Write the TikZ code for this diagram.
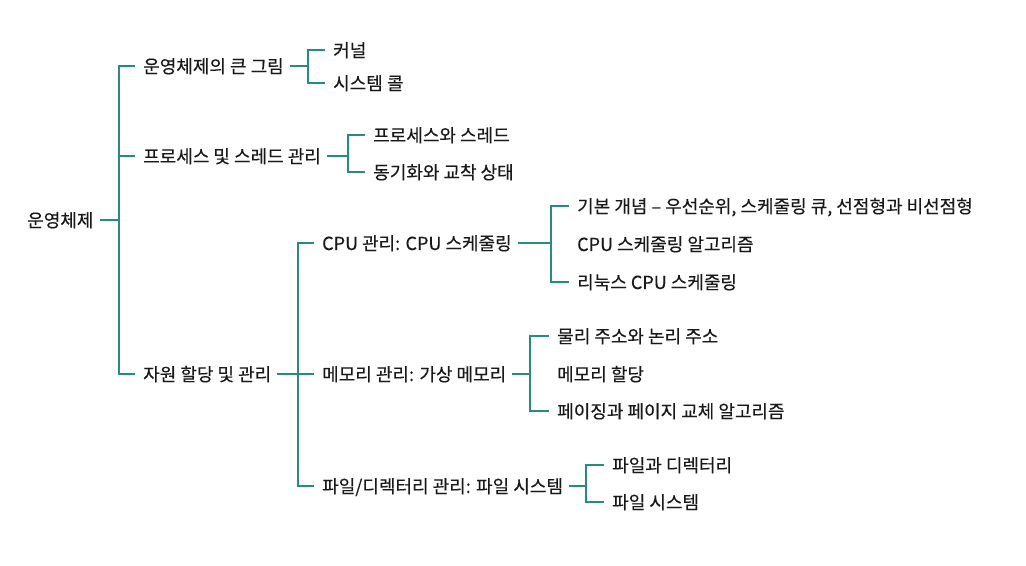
\documentclass[tikz,border=0pt]{standalone}
\usepackage{fontspec}
\newfontfamily\kr[FakeBold=0.3]{Noto Sans CJK KR}
\definecolor{lc}{RGB}{38,140,126}
\definecolor{tc}{RGB}{25,25,25}
\begin{document}
\begin{tikzpicture}[x=1bp,y=-1bp,
 lbl/.style={anchor=west,inner sep=0pt,text=tc,font=\kr\fontsize{18bp}{21bp}\selectfont,text height=16bp,text depth=2bp},
 conn/.style={draw=lc,line width=1.4bp}]
\useasboundingbox[fill=white] (0,0) rectangle (1026,566);
\node[lbl] (root) at (27,220) {운영체제};
\node[lbl] (a1) at (143,66) {운영체제의 큰 그림};
\node[lbl] (a2) at (143,156) {프로세스 및 스레드 관리};
\node[lbl] (a3) at (143,374) {자원 할당 및 관리};
\node[lbl] (b1) at (333,50) {커널};
\node[lbl] (b2) at (333,83) {시스템 콜};
\node[lbl] (c1) at (373,135) {프로세스와 스레드};
\node[lbl] (c2) at (373,172) {동기화와 교착 상태};
\node[lbl] (d1) at (322,243) {CPU 관리: CPU 스케줄링};
\node[lbl] (d2) at (322,374) {메모리 관리: 가상 메모리};
\node[lbl] (d3) at (322,486) {파일/디렉터리 관리: 파일 시스템};
\node[lbl] (e1) at (577,206) {기본 개념 – 우선순위, 스케줄링 큐, 선점형과 비선점형};
\node[lbl] (e2) at (577,244) {CPU 스케줄링 알고리즘};
\node[lbl] (e3) at (577,282) {리눅스 CPU 스케줄링};
\node[lbl] (f1) at (557,336) {물리 주소와 논리 주소};
\node[lbl] (f2) at (557,374) {메모리 할당};
\node[lbl] (f3) at (557,411) {페이징과 페이지 교체 알고리즘};
\node[lbl] (g1) at (612,465) {파일과 디렉터리};
\node[lbl] (g2) at (612,502) {파일 시스템};
\coordinate (s0) at (119,0);
\coordinate (s1) at (308,0);
\coordinate (s2) at (348,0);
\coordinate (s3) at (298,0);
\coordinate (s4) at (551,0);
\coordinate (s5) at (530,0);
\coordinate (s6) at (586,0);
% level 1
\draw[conn] ([xshift=6]root.east) -- (root.east -| s0);
\draw[conn] ([xshift=-8]a1.west) -- (a1.west -| s0) -- (a3.west -| s0) -- ([xshift=-8]a3.west);
\draw[conn] (a2.west -| s0) -- ([xshift=-8]a2.west);
% big picture
\draw[conn] ([xshift=6]a1.east) -- (a1.east -| s1);
\draw[conn] ([xshift=-8]b1.west) -- (b1.west -| s1) -- (b2.west -| s1) -- ([xshift=-8]b2.west);
% process
\draw[conn] ([xshift=6]a2.east) -- (a2.east -| s2);
\draw[conn] ([xshift=-8]c1.west) -- (c1.west -| s2) -- (c2.west -| s2) -- ([xshift=-8]c2.west);
% resources
\draw[conn] ([xshift=6]a3.east) -- ([xshift=-8]d2.west);
\draw[conn] ([xshift=-8]d1.west) -- (d1.west -| s3) -- (d3.west -| s3) -- ([xshift=-8]d3.west);
% cpu
\draw[conn] ([xshift=6]d1.east) -- (d1.east -| s4);
\draw[conn] ([xshift=-8]e1.west) -- (e1.west -| s4) -- (e3.west -| s4) -- ([xshift=-8]e3.west);
% memory
\draw[conn] ([xshift=6]d2.east) -- (d2.east -| s5);
\draw[conn] ([xshift=-8]f1.west) -- (f1.west -| s5) -- (f3.west -| s5) -- ([xshift=-8]f3.west);
% file
\draw[conn] ([xshift=6]d3.east) -- (d3.east -| s6);
\draw[conn] ([xshift=-8]g1.west) -- (g1.west -| s6) -- (g2.west -| s6) -- ([xshift=-8]g2.west);
\end{tikzpicture}
\end{document}
